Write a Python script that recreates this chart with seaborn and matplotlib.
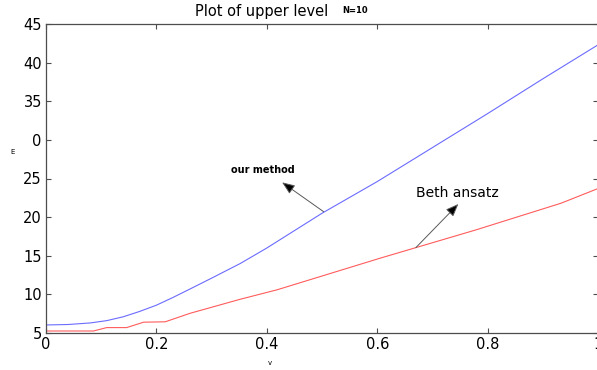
import numpy as np
import pandas as pd
import matplotlib
matplotlib.use("Agg")
import matplotlib.pyplot as plt
import seaborn as sns

# values
v_method = [0, 0.04, 0.08, 0.11, 0.14, 0.17, 0.2, 0.23, 0.261, 0.3, 0.352, 0.4,
            0.5, 0.6, 0.7, 0.8, 0.9, 1.0]
e_method = [6.04, 6.1, 6.3, 6.6, 7.1, 7.8, 8.6, 9.6, 10.7, 12.1, 14.0, 16.0,
            20.5, 24.6, 29.0, 33.4, 37.9, 42.3]

v_beth = [0, 0.086, 0.11, 0.146, 0.177, 0.216, 0.261, 0.352, 0.419, 0.606,
          0.67, 0.779, 0.933, 1.0]
e_beth = [5.26, 5.26, 5.7, 5.7, 6.4, 6.45, 7.55, 9.37, 10.6, 14.7,
          16.05, 18.35, 21.8, 23.7]

x_ticks = [0, 0.2, 0.4, 0.6, 0.8, 1]
x_ticklabels = ["0", "0.2", "0.4", "0.6", "0.8", "1"]
y_ticks = [5, 10, 15, 20, 25, 30, 35, 40, 45]
y_ticklabels = ["5", "10", "15", "20", "25", "0", "35", "40", "45"]

df_method = pd.DataFrame({"v": v_method, "E": e_method})
df_beth = pd.DataFrame({"v": v_beth, "E": e_beth})

sns.set_style("ticks")
plt.rcParams["font.family"] = ["DejaVu Sans"]

fig = plt.figure(figsize=(5.97, 3.70), dpi=100)
ax = fig.add_axes([46 / 597, 37 / 370, 552 / 597, 309 / 370])

sns.lineplot(data=df_method, x="v", y="E", ax=ax, color="#6b6bff", lw=0.8)
sns.lineplot(data=df_beth, x="v", y="E", ax=ax, color="#ff5c5c", lw=0.8)

ax.set_xlim(0, 1)
ax.set_ylim(5, 45)
ax.set_xticks(x_ticks)
ax.set_xticklabels(x_ticklabels)
ax.set_yticks(y_ticks)
ax.set_yticklabels(y_ticklabels)
ax.tick_params(direction="in", top=True, right=True, length=3.5, width=0.8,
               color="0.3", labelsize=10.5, labelcolor="black", pad=3)
for s in ax.spines.values():
    s.set_color("0.3")
    s.set_linewidth(0.9)

ax.set_xlabel("v", fontsize=5, color="black")
ax.set_ylabel("E", fontsize=5, rotation=0, color="black")
ax.xaxis.set_label_coords(0.406, -0.087)
ax.yaxis.set_label_coords(-0.06, 0.576)

ax.text(0.391, 1.039, "Plot of upper level", transform=ax.transAxes,
        fontsize=10.5, ha="center", va="center", color="black")
ax.text(0.56, 1.045, "N=10", transform=ax.transAxes, fontsize=6,
        fontweight="bold", ha="center", va="center", color="black")

arrow = dict(arrowstyle="-|>,head_length=0.7,head_width=0.28", ec="0.35",
             fc="black", lw=0.7, mutation_scale=11, shrinkA=0, shrinkB=0)
ax.annotate("", xy=(0.4277, 24.5), xytext=(0.503, 20.7), arrowprops=arrow)
ax.text(0.393, 26.1, "our method", fontsize=7, fontweight="bold",
        ha="center", va="center", color="black")

ax.annotate("", xy=(0.747, 21.7), xytext=(0.67, 16.05), arrowprops=arrow)
ax.text(0.746, 23.1, "Beth ansatz", fontsize=10, ha="center", va="center",
        color="black")

fig.savefig("out.png", dpi=100)
